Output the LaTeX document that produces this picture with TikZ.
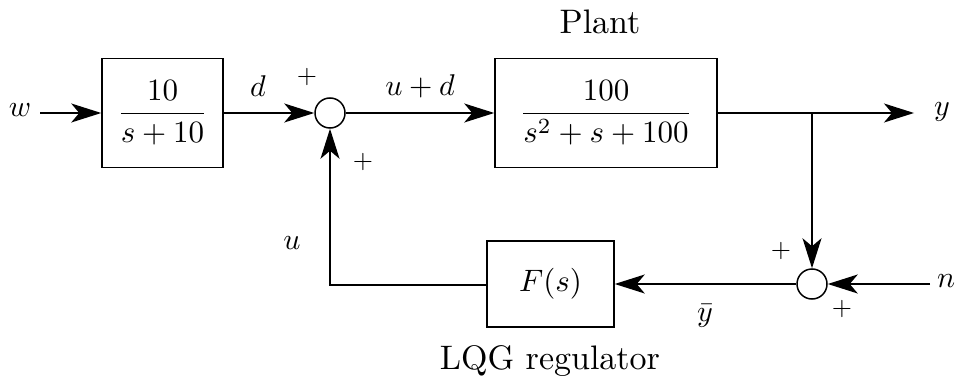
\documentclass[tikz,border=0pt]{standalone}
\usetikzlibrary{arrows.meta}
\newcommand{\mysc}[2]{\scalebox{#1}{#2}}
\begin{document}
\begin{tikzpicture}[x=1pt,y=-1pt,
  blk/.style={draw,line width=1.5pt,inner sep=0pt},
  sumc/.style={draw,circle,line width=1.5pt,minimum size=30pt,inner sep=0pt},
  wire/.style={line width=1.4pt},
  sig/.style={wire,-{Stealth[length=30pt,width=19pt,inset=8pt]}}]
\useasboundingbox (0,0) rectangle (957,379);
\node[blk,minimum width=121pt,minimum height=109pt] (g1) at (162.5,113) {\mysc{3.1}{$\displaystyle\frac{10}{s+10}$}};
\node[sumc] (s1) at (330,113) {};
\node[blk,minimum width=222pt,minimum height=109pt] (pl) at (606,113) {\mysc{3.1}{$\displaystyle\frac{100}{s^2+s+100}$}};
\node[sumc] (s2) at (812,284) {};
\node[blk,minimum width=127pt,minimum height=86pt] (F) at (550.5,284) {\mysc{3.1}{$F(s)$}};
\node (w) at (20,110) {\mysc{3}{$w$}};
\node (y) at (942,112) {\mysc{3}{$y$}};
\node (n) at (946,281) {\mysc{3}{$n$}};
\coordinate (wstart) at (40,113);
\coordinate (br) at (812,113);
\coordinate (yend) at (914,113);
\coordinate (nstart) at (930,284);
\coordinate (corner) at (330,285);
\draw[sig] (wstart) -- (g1.west);
\draw[sig] (g1.east) -- (s1.west);
\draw[sig] (s1.east) -- (pl.west);
\draw[sig] (pl.east |- br) -- (yend);
\draw[sig] (br) -- (s2.north);
\draw[sig] (nstart) -- (s2.east);
\draw[sig] (s2.west) -- (F.east);
\draw[sig] (F.west |- corner) -- (corner) -- (s1.south);
\node (ld) at (258,86) {\mysc{3}{$d$}};
\node (lud) at (420,86) {\mysc{3}{$u+d$}};
\node (lu) at (292,243) {\mysc{3}{$u$}};
\node (lyb) at (705,316) {\mysc{3}{$\bar y$}};
\node (plant) at (600,22) {\mysc{3.4}{Plant}};
\node (lqg) at (550,361) {\mysc{3.4}{LQG regulator}};
\node (p1) at (307,77) {\mysc{2.6}{$+$}};
\node (p2) at (363,162) {\mysc{2.6}{$+$}};
\node (p3) at (781,251) {\mysc{2.6}{$+$}};
\node (p4) at (842,309) {\mysc{2.6}{$+$}};
\end{tikzpicture}
\end{document}
